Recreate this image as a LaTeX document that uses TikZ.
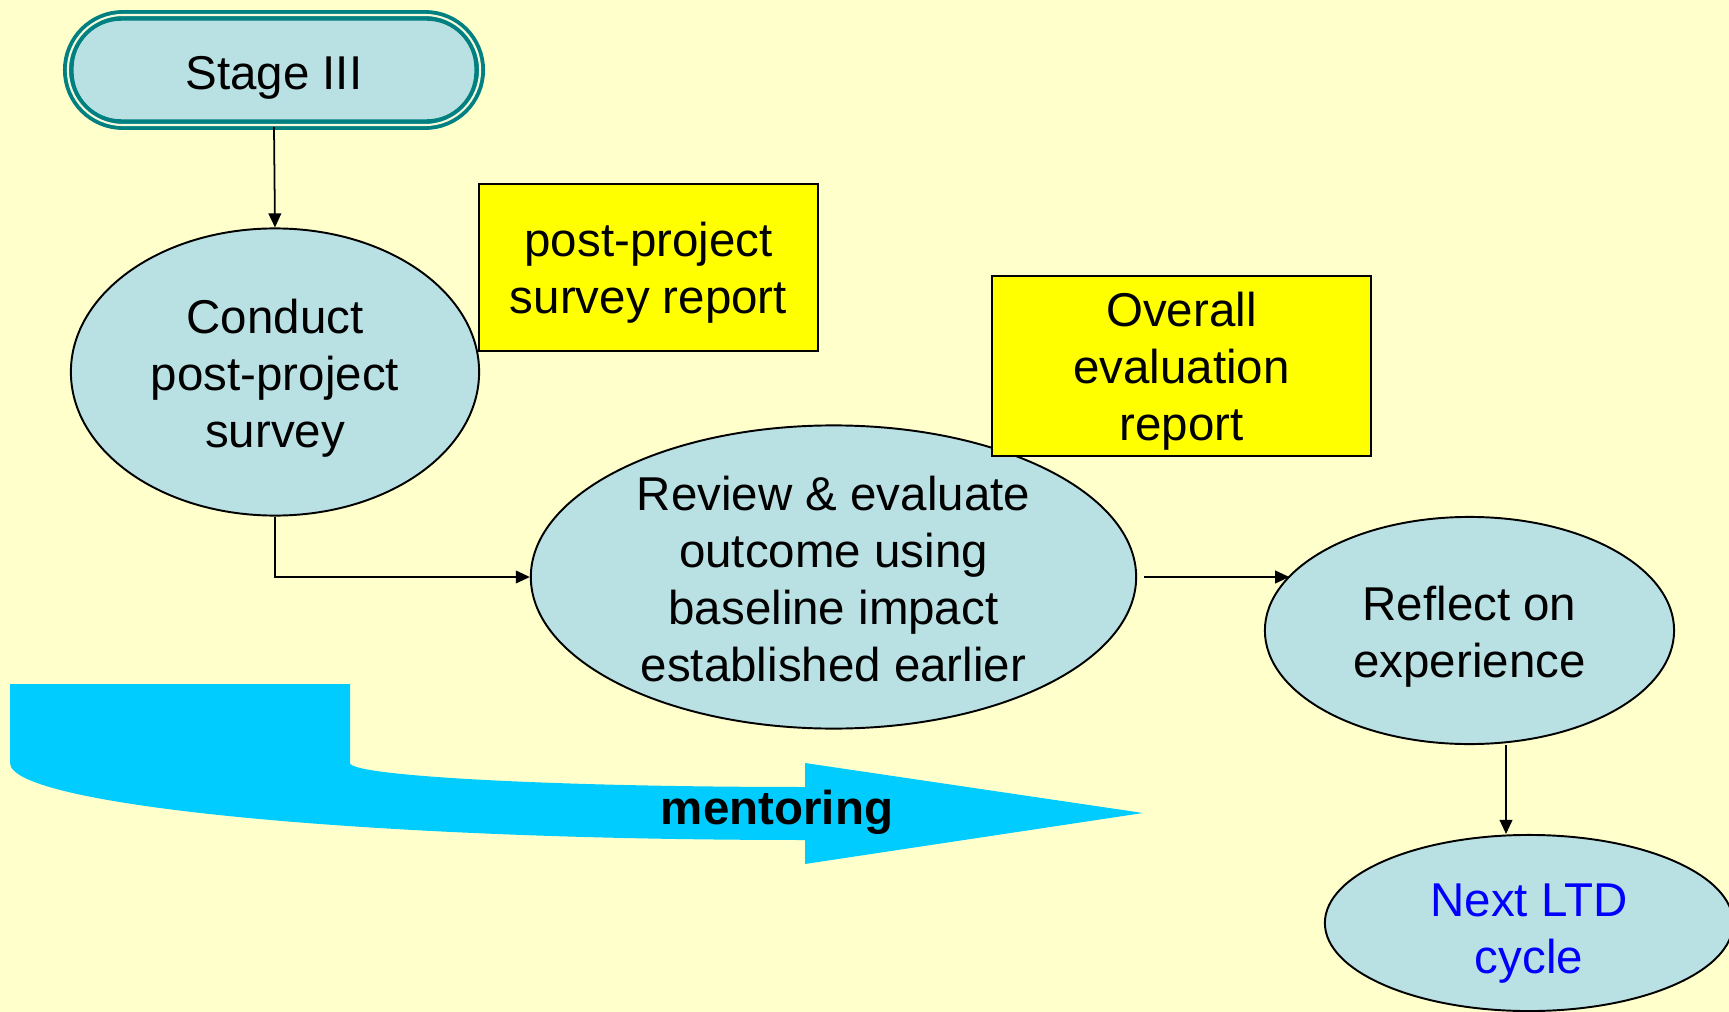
\documentclass[tikz,border=0pt]{standalone}
\usepackage{fontspec}
\setmainfont{Liberation Sans}
\usetikzlibrary{shapes.geometric,arrows.meta}
\definecolor{paper}{HTML}{FFFFCC}
\definecolor{bubble}{HTML}{B9E0E3}
\definecolor{rim}{HTML}{008080}
\definecolor{rimgap}{HTML}{F4F8DC}
\definecolor{flow}{HTML}{00CCFF}
\definecolor{note}{HTML}{FFFF00}
\definecolor{nexttext}{HTML}{0000FF}
\tikzset{
  every node/.style={font=\fontsize{13.5pt}{16.2pt}\selectfont, align=center, inner sep=0pt},
  stagebox/.style={rectangle, rounded corners=0.55cm, minimum width=4.12cm, minimum height=1.10cm,
    fill=bubble, draw=rim, line width=1.1pt, double=rimgap, double distance=0.6pt},
  oval/.style={ellipse, draw=black, line width=0.55pt, fill=bubble},
  notebox/.style={rectangle, draw=black, line width=0.5pt, fill=note},
  link/.style={draw=black, line width=0.5pt, -{Triangle[length=4pt,width=3.6pt]}},
}
\begin{document}
\begin{tikzpicture}[x=0.01cm, y=-0.01cm]
  \useasboundingbox (0,0) rectangle (1729,1012);
  \fill[paper] (0,0) rectangle (1729,1012);
  \clip (0,0) rectangle (1729,1012);

  % broad curved mentoring arrow
  \fill[flow] (10,684) -- (350,684) -- (350,763)
    .. controls (350,776) and (554,787) .. (805,787)
    -- (805,763) -- (1143,813) -- (805,864) -- (805,840)
    .. controls (366,840) and (10,805.5) .. (10,763) -- cycle;
  \node[font=\fontsize{13.5pt}{16.2pt}\selectfont\bfseries] (mentoring) at (777,812) {mentoring};

  % start terminal
  \node[stagebox] (stage) at (274,70) {};
  \draw[rim, line width=0.4pt, rounded corners=0.48cm]
    ([xshift=0.07cm,yshift=-0.07cm]stage.north west) rectangle ([xshift=-0.07cm,yshift=0.07cm]stage.south east);
  \node (stage-text) at ([yshift=-0.077cm]stage.center) {Stage III};

  % process steps
  \node[oval, minimum width=4.08cm, minimum height=2.87cm] (conduct) at (275,372) {};
  \node (conduct-text) at ([yshift=-0.066cm]conduct.center) {Conduct\\post-project\\survey};
  \node[oval, minimum width=6.05cm, minimum height=3.03cm] (review) at (833.5,577) {};
  \node (review-text) at ([yshift=-0.018cm]review.center)
    {Review \& evaluate\\outcome using\\baseline impact\\established earlier};
  \node[oval, minimum width=4.09cm, minimum height=2.27cm] (reflect) at (1469.5,630.5) {};
  \node (reflect-text) at ([yshift=-0.066cm]reflect.center) {Reflect on\\experience};
  \node[oval, minimum width=4.08cm, minimum height=1.76cm] (next) at (1529,923) {};
  \node[text=nexttext] (next-text) at ([yshift=-0.11cm]next.center) {Next LTD\\cycle};

  % reports
  \node[notebox, minimum width=3.39cm, minimum height=1.67cm] (survey) at (648.5,267.5) {};
  \node (survey-text) at ([yshift=-0.055cm]survey.center) {post-project\\survey report};
  \node[notebox, minimum width=3.79cm, minimum height=1.80cm] (overall) at (1181.5,366) {};
  \node (overall-text) at ([yshift=-0.055cm]overall.center) {Overall\\evaluation\\report};

  % connectors
  \draw[link] (stage.south) -- (conduct.north);
  \draw[link] (conduct.south) |- (review.west);
  \draw[link] ([xshift=0.07cm]review.east) -- (review.east -| reflect.163.5);
  \draw[link] ([xshift=0.365cm]reflect.south) -- ([xshift=0.365cm]reflect.south |- next.north);
\end{tikzpicture}
\end{document}
